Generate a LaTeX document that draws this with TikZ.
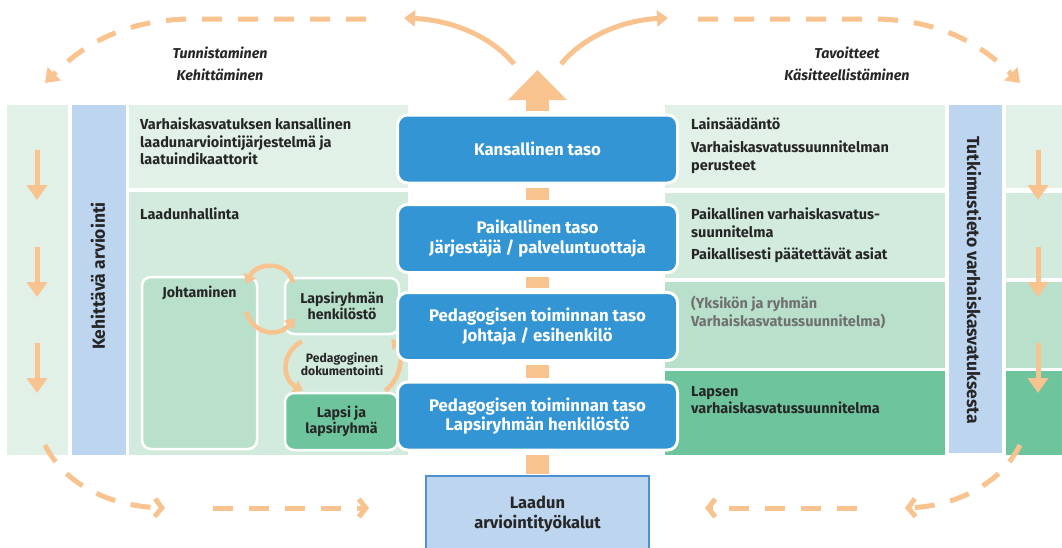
\documentclass[tikz,border=0pt]{standalone}
\usepackage{fontspec}
\setmainfont{Fira Sans}
\usetikzlibrary{arrows.meta,positioning}

\definecolor{paleA}{HTML}{E1F1E7}
\definecolor{paleB}{HTML}{D2EBDD}
\definecolor{paleC}{HTML}{B8E0CB}
\definecolor{greenD}{HTML}{6EC59D}
\definecolor{colBlue}{HTML}{BDD5EF}
\definecolor{tierBlue}{HTML}{3395D4}
\definecolor{flow}{HTML}{F8C38E}
\definecolor{ink}{HTML}{262626}
\definecolor{note}{HTML}{707070}
\definecolor{toolEdge}{HTML}{4A92D2}

\begin{document}
\begin{tikzpicture}[x=1pt, y=-1pt,
    tierbox/.style={draw=white, line width=3pt, fill=tierBlue, rounded corners=10pt,
      minimum width=280pt, minimum height=68pt, text=white, align=center,
      font=\fontsize{16.8}{19.5}\selectfont\bfseries},
    subbox/.style={draw=white, line width=2.5pt, rounded corners=9pt, fill=paleC},
    subtxt/.style={text=ink, align=center, font=\fontsize{14.2}{16}\selectfont\bfseries},
    txt/.style={anchor=north west, inner sep=0pt, align=left, text=ink,
      font=\fontsize{14.5}{17.5}\selectfont\bfseries},
    side/.style={text=ink, font=\fontsize{17.5}{20}\selectfont\bfseries},
    phase/.style={text=ink, align=center, font=\fontsize{14.3}{22}\selectfont\bfseries\itshape},
    link/.style={draw=flow, line width=23pt},
    cyc/.style={draw=flow, line width=4.5pt, -{Triangle[width=13pt,length=9pt]}},
    loopdash/.style={draw=flow, line width=5pt, dash pattern=on 20pt off 16pt},
    down/.style={draw=flow, line width=5pt, -{Triangle[width=20pt,length=15pt]}}]

  \useasboundingbox (0,0) rectangle (1062,547);

  % background bands
  \fill[paleA] (7,105) rectangle (68,455);
  \fill[colBlue] (72,105) rectangle (126,455);
  \fill[paleA] (129,105) rectangle (408,188);
  \fill[paleB] (129,192) rectangle (408,455);
  \fill[colBlue] (949,105) rectangle (1002,453);
  \foreach \ya/\yb/\c in {105/188/paleA, 193/278/paleB, 282/368/paleC, 371/455/greenD} {
    \fill[\c] (665,\ya) rectangle (945,\yb);
    \fill[\c] (1006,\ya) rectangle (1062,\yb);
  }

  \foreach \y in {150,247,343} {
    \draw[down] (37,\y) -- (37,\y+50);
    \draw[down] (1038,\y) -- (1038,\y+50);
  }

  \node[side, rotate=90] (kehit) at (98,276) {Kehittävä arviointi};
  \node[side, rotate=-90] (tutk) at (974,280) {Tutkimustieto varhaiskasvatuksesta};

  % left panel
  \node[txt] (kansv) at (140,118) {Varhaiskasvatuksen kansallinen\\laadunarviointijärjestelmä ja\\laatuindikaattorit};
  \node[txt] (laad) at (140,208) {Laadunhallinta};
  \node[subbox, minimum width=115pt, minimum height=172pt] (johto) at (199.5,363) {};
  \node[subtxt, below=7pt of johto.north] (johtot) {Johtaminen};
  \node[subbox, minimum width=114pt, minimum height=56pt] (henk) at (342,306) {};
  \node[subtxt] (henkt) at (henk) {Lapsiryhmän\\henkilöstö};
  \node[subbox, fill=greenD, minimum width=113pt, minimum height=57pt] (lapsi) at (341.5,421.5) {};
  \node[subtxt] (lapsit) at (lapsi) {Lapsi ja\\lapsiryhmä};
  \node[text=ink, align=center, font=\fontsize{12.2}{13}\selectfont\bfseries] (pdok) at (342,364) {Pedagoginen\\dokumentointi};

  \draw[cyc] ([xshift=9pt,yshift=-6pt]henk.north west) .. controls +(-4,-22) and +(10,-22) .. ([xshift=-12pt,yshift=-8pt]johto.north east);
  \draw[cyc] ([xshift=-12pt,yshift=-36pt]johto.north east) .. controls +(7,23) and +(-16,20) .. ([xshift=11pt,yshift=-12pt]henk.west);
  \draw[cyc] ([xshift=18pt,yshift=-6pt]henk.south west) .. controls +(-21,12) and +(-21,-12) .. ([xshift=19pt,yshift=1pt]lapsi.north west);
  \draw[cyc] ([xshift=-14pt,yshift=1pt]lapsi.north east) .. controls +(18,-14) and +(12,12) .. ([xshift=-9pt,yshift=-4pt]henk.south east);

  % right panel
  \node[txt] (lain) at (691,118) {Lainsäädäntö};
  \node[txt] (vasu) at (691,141) {Varhaiskasvatussuunnitelman\\perusteet};
  \node[txt] (pvasu) at (691,208) {Paikallinen varhaiskasvatus-\\suunnitelma};
  \node[txt] (pasiat) at (691,248) {Paikallisesti päätettävät asiat};
  \node[txt, text=note] (yks) at (691,296) {(Yksikön ja ryhmän\\Varhaiskasvatussuunnitelma)};
  \node[txt] (lvasu) at (691,386) {Lapsen\\varhaiskasvatussuunnitelma};

  % levels
  \node[tierbox] (kans) at (537.5,149) {Kansallinen taso};
  \node[tierbox] (paik) at (537.5,238.5) {Paikallinen taso\\Järjestäjä / palveluntuottaja};
  \node[tierbox] (johtaja) at (537.5,326.5) {Pedagogisen toiminnan taso\\Johtaja / esihenkilö};
  \node[tierbox] (ryhma) at (537.5,416) {Pedagogisen toiminnan taso\\Lapsiryhmän henkilöstö};
  \node[draw=toolEdge, line width=1.2pt, fill=colBlue, minimum width=223pt, minimum height=76pt,
    align=center, text=ink, font=\fontsize{16.5}{20}\selectfont\bfseries] (tool) at (537.5,514) {Laadun\\arviointityökalut};

  \draw[link, shorten <=3pt, shorten >=3pt] (kans.south) -- (paik.north);
  \draw[link, shorten <=3pt, shorten >=3pt] (paik.south) -- (johtaja.north);
  \draw[link, shorten <=3pt, shorten >=3pt] (johtaja.south) -- (ryhma.north);
  \draw[link, shorten <=3pt, shorten >=1pt] (ryhma.south) -- (tool.north);

  \coordinate (apex) at (537.5,70);
  \draw[link, shorten <=3pt, -{Triangle[width=57pt,length=30pt]}] (kans.north) -- (apex);

  % cycle around the levels
  \coordinate (splitL) at (514,64);
  \coordinate (splitR) at (561,64);
  \coordinate (topL) at (404,18);
  \coordinate (topR) at (668,18);
  \draw[flow, line width=5pt, -{Triangle[width=16pt,length=11pt]}] (splitL) .. controls (490,35) and (450,20) .. (topL);
  \draw[flow, line width=5pt, -{Triangle[width=16pt,length=11pt]}] (splitR) .. controls (585,35) and (625,20) .. (topR);

  \coordinate (dashL) at (366,19);
  \coordinate (dashR) at (698,19);
  \coordinate (cornerTL) at (45,83);
  \coordinate (cornerTR) at (1020,83);
  \draw[loopdash, -{Triangle[width=18pt,length=13pt]}] (dashL) -- (190,19) .. controls (120,20) and (80,48) .. (cornerTL);
  \draw[loopdash, -{Triangle[width=18pt,length=13pt]}] (dashR) -- (875,19) .. controls (945,20) and (985,48) .. (cornerTR);

  \coordinate (cornerBL) at (45,445);
  \coordinate (cornerBR) at (1020,445);
  \coordinate (midBL) at (165,508);
  \coordinate (midBR) at (905,508);
  \coordinate (endBL) at (369,508);
  \coordinate (endBR) at (705,508);
  \draw[loopdash, -{Straight Barb[length=7pt,width=18pt]}] (cornerBL) .. controls (65,485) and (110,506) .. (midBL);
  \draw[loopdash, -{Straight Barb[length=7pt,width=18pt]}] ([xshift=48pt]midBL) -- (endBL);
  \draw[loopdash, -{Straight Barb[length=7pt,width=18pt]}] (cornerBR) .. controls (1000,485) and (955,506) .. (midBR);
  \draw[loopdash, -{Straight Barb[length=7pt,width=18pt]}] ([xshift=-48pt]midBR) -- (endBR);

  \node[phase] (tunn) at (220,64) {Tunnistaminen\\Kehittäminen};
  \node[phase] (tavo) at (847,64) {Tavoitteet\\Käsitteellistäminen};
\end{tikzpicture}
\end{document}
